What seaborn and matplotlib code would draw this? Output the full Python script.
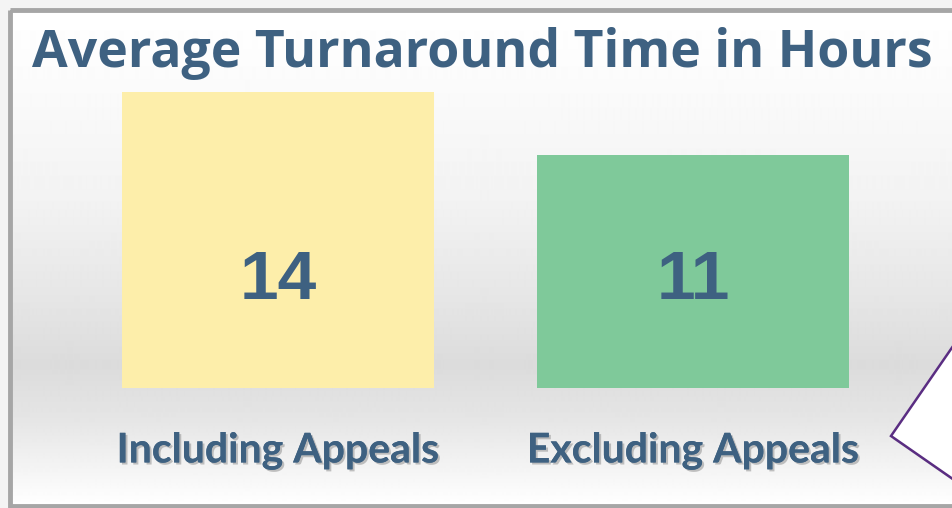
import numpy as np
import pandas as pd
import matplotlib.pyplot as plt
import matplotlib.patheffects as pe
from matplotlib.patches import Rectangle, Polygon
from matplotlib.transforms import Affine2D
from matplotlib.font_manager import FontProperties
import seaborn as sns

# data
categories = ["Including Appeals", "Excluding Appeals"]
hours = [14, 11]
bar_colors = ["#fdeeaa", "#7fc99a"]

title = "Average Turnaround Time in Hours"
text_color = "#3e6181"

df = pd.DataFrame({"category": categories, "hours": hours})

sns.set_theme(style="white")
fig = plt.figure(figsize=(9.52, 5.08), dpi=100)
fig.patch.set_facecolor("#f4f4f4")

# background panel in pixel coords
bg = fig.add_axes([0, 0, 1, 1], zorder=0)
bg.set_xlim(0, 952)
bg.set_ylim(508, 0)
bg.axis("off")

# vertical gradient: white top, grey band around the baseline, white bottom
ys = np.array([12, 60, 200, 300, 365, 420, 480, 505])
vals = np.array([1.0, 0.99, 0.95, 0.90, 0.86, 0.90, 0.97, 1.0])
grid = np.interp(np.arange(12, 506), ys, vals)
img = np.repeat(grid[:, None], 2, axis=1)
bg.imshow(img, cmap="gray", vmin=0, vmax=1, extent=(12, 960, 506, 12),
          aspect="auto", interpolation="bilinear", zorder=1)
bg.add_patch(Rectangle((10, 10), 960, 496, fill=False, edgecolor="#a6a6a6",
                       linewidth=3.5, zorder=2))

# callout shape on the right
pts = [(960, 336), (891, 436), (960, 484)]
bg.add_patch(Polygon(pts, closed=False, facecolor="#c8c8c8", edgecolor="none", zorder=2,
                     transform=bg.transData + Affine2D().translate(2, -3)))
bg.add_patch(Polygon(pts, closed=False, facecolor="white", edgecolor="#5a2d82",
                     linewidth=1.8, zorder=3))

# main chart
ax = fig.add_axes([70.5 / 952, (508 - 388) / 508, 830 / 952, 296 / 508], zorder=1)
ax.patch.set_alpha(0)
sns.barplot(data=df, x="category", y="hours", hue="category", palette=bar_colors,
            width=0.752, legend=False, ax=ax, saturation=1, linewidth=0)
ax.set_xlim(-0.5, 1.5)
ax.set_ylim(0, 14)
ax.set_yticks([])
ax.set_xlabel("")
ax.set_ylabel("")
sns.despine(ax=ax, left=True, bottom=True)

num_font = FontProperties(family="Liberation Sans", weight="bold", size=50)
lab_font = FontProperties(family="Lato", weight="bold", size=29.5)
title_font = FontProperties(family="Open Sans", weight="bold", size=37.3)

# numbers sit at a fixed height in each bar
for i, v in enumerate(hours):
    ax.text(i, 5.05, str(v), ha="center", va="center",
            fontproperties=num_font, color=text_color)

ax.set_xticks(range(len(categories)))
ax.set_xticklabels(categories, fontproperties=lab_font, color=text_color)
ax.tick_params(axis="x", length=0, pad=32)
for lab in ax.get_xticklabels():
    lab.set_path_effects([pe.withSimplePatchShadow(offset=(1.5, -1.5), shadow_rgbFace="#9a9a9a", alpha=0.6),
                          pe.Normal()])

fig.text(482 / 952, 1 - 53 / 508, title, ha="center", va="center",
         fontproperties=title_font, color=text_color)

fig.savefig("out.png", dpi=100)
